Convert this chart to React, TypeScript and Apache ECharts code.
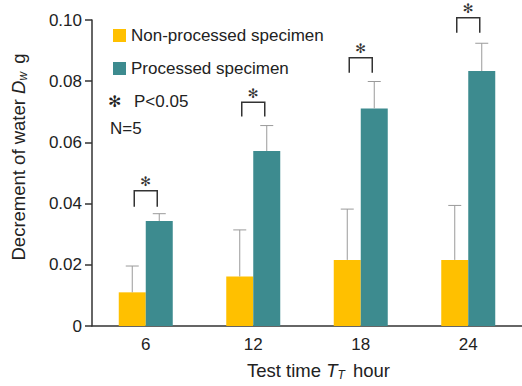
import React, { useEffect, useRef } from "react";
import * as echarts from "echarts";

const categories = ["6", "12", "18", "24"];
const nonProcessed = [0.011, 0.0162, 0.0216, 0.0216];
const nonProcessedErrTop = [0.0196, 0.0314, 0.0382, 0.0394];
const processed = [0.0343, 0.0572, 0.0711, 0.0833];
const processedErrTop = [0.0367, 0.0655, 0.0799, 0.0924];
const bracketBottom = [0.039, 0.0685, 0.0828, 0.0958];
const bracketTop = [0.0442, 0.0731, 0.0877, 0.1007];
const yTicks = [0, 0.02, 0.04, 0.06, 0.08, 0.1];

const FONT = "'Liberation Sans', Arial, Helvetica, sans-serif";
const YELLOW = "#FFC000";
const TEAL = "#3D8B8F";
const BAR_W = 27;

export default function App() {
  const ref = useRef<HTMLDivElement>(null);
  useEffect(() => {
    const chart = echarts.init(ref.current!, null, { renderer: "svg" });

    const errData = (means: number[], tops: number[]) =>
      means.map((m, i) => [i, m, tops[i]]);

    const errSeries = (name: string, means: number[], tops: number[], dx: number) => ({
      type: "custom",
      name,
      clip: false,
      z: 3,
      data: errData(means, tops),
      renderItem: (_p: any, api: any) => {
        const base = api.coord([api.value(0), api.value(1)]);
        const top = api.coord([api.value(0), api.value(2)]);
        const x = base[0] + dx;
        return {
          type: "group",
          children: [
            {
              type: "line",
              shape: { x1: x, y1: base[1], x2: x, y2: top[1] },
              style: { stroke: "#9a9a9a", lineWidth: 1 },
            },
            {
              type: "line",
              shape: { x1: x - 6.5, y1: top[1], x2: x + 6.5, y2: top[1] },
              style: { stroke: "#9a9a9a", lineWidth: 1 },
            },
          ],
        };
      },
    });

    const nameRich = {
      i: { fontFamily: FONT, fontSize: 18.5, fontStyle: "italic", color: "#222" },
      s: { fontFamily: FONT, fontSize: 12, fontStyle: "italic", color: "#222", padding: [9, 3, 0, 0] },
    };

    chart.setOption({
      animation: false,
      grid: { left: 92, right: -4, top: 20, bottom: 58 },
      legend: {
        data: ["Non-processed specimen", "Processed specimen"],
        orient: "vertical",
        left: 108,
        top: 22,
        itemWidth: 13,
        itemHeight: 13,
        itemGap: 16,
        icon: "rect",
        textStyle: { fontFamily: FONT, fontSize: 17, color: "#222" },
        selectedMode: false,
      },
      xAxis: {
        type: "category",
        data: categories,
        name: "Test time {i|T}{s|T} hour",
        nameLocation: "middle",
        nameGap: 34,
        nameTextStyle: {
          fontFamily: FONT,
          fontSize: 18.5,
          color: "#222",
          padding: [0, 0, 0, 23],
          rich: nameRich,
        },
        axisLine: { lineStyle: { color: "#333", width: 1.5 } },
        axisTick: { length: 8, lineStyle: { color: "#333", width: 1.5 } },
        axisLabel: { fontFamily: FONT, fontSize: 17, color: "#222", margin: 10 },
      },
      yAxis: {
        type: "value",
        min: 0,
        max: 0.1,
        interval: 0.02,
        name: "Decrement of water {i|D}{s|w} g",
        nameLocation: "middle",
        nameGap: 63,
        nameTextStyle: {
          fontFamily: FONT,
          fontSize: 18.5,
          color: "#222",
          padding: [0, 0, 0, 32],
          rich: nameRich,
        },
        axisLine: { show: true, lineStyle: { color: "#333", width: 1.5 } },
        axisTick: { show: true, length: 7, lineStyle: { color: "#333", width: 1.5 } },
        axisLabel: {
          fontFamily: FONT,
          fontSize: 17,
          color: "#222",
          margin: 10,
          formatter: (v: number) => {
            const t = yTicks.find((k) => Math.abs(k - v) < 1e-9);
            const val = t === undefined ? v : t;
            return val === 0 ? "0" : val.toFixed(2);
          },
        },
        splitLine: { show: false },
      },
      series: [
        {
          type: "bar",
          name: "Non-processed specimen",
          data: nonProcessed,
          barWidth: BAR_W,
          barGap: "0%",
          itemStyle: { color: YELLOW },
          z: 2,
        },
        {
          type: "bar",
          name: "Processed specimen",
          data: processed,
          barWidth: BAR_W,
          barGap: "0%",
          itemStyle: { color: TEAL },
          z: 2,
        },
        errSeries("errNP", nonProcessed, nonProcessedErrTop, -BAR_W / 2),
        errSeries("errP", processed, processedErrTop, BAR_W / 2),
        {
          type: "custom",
          name: "brackets",
          clip: false,
          z: 4,
          data: bracketBottom.map((b, i) => [i, b, bracketTop[i]]),
          renderItem: (_p: any, api: any) => {
            const bot = api.coord([api.value(0), api.value(1)]);
            const top = api.coord([api.value(0), api.value(2)]);
            const cx = bot[0];
            const hw = 11.5;
            return {
              type: "group",
              children: [
                {
                  type: "polyline",
                  shape: {
                    points: [
                      [cx - hw, bot[1]],
                      [cx - hw, top[1]],
                      [cx + hw, top[1]],
                      [cx + hw, bot[1]],
                    ],
                  },
                  style: { stroke: "#333", lineWidth: 1.5, fill: null },
                },
                {
                  type: "text",
                  x: cx,
                  y: top[1] - 9,
                  style: {
                    text: "✻",
                    fontFamily: "'DejaVu Sans', sans-serif",
                    fontSize: 13,
                    fill: "#333",
                    align: "center",
                    verticalAlign: "middle",
                  },
                },
              ],
            };
          },
        },
      ],
      graphic: [
        {
          type: "text",
          left: 108,
          top: 93,
          style: { text: "✻", fontFamily: "'DejaVu Sans', sans-serif", fontSize: 16, fill: "#222" },
        },
        {
          type: "text",
          left: 134,
          top: 93,
          style: { text: "P<0.05", fontFamily: FONT, fontSize: 17, fill: "#222" },
        },
        {
          type: "text",
          left: 110,
          top: 120,
          style: { text: "N=5", fontFamily: FONT, fontSize: 17, fill: "#222" },
        },
      ],
    });
    return () => chart.dispose();
  }, []);
  return (
    <div
      ref={ref}
      style={{ position: "fixed", left: 0, top: 0, width: 522, height: 386, background: "#fff" }}
    />
  );
}
